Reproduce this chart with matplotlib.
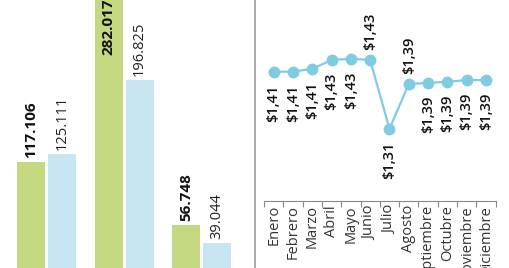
import matplotlib; matplotlib.use("Agg")
import matplotlib.pyplot as plt
from matplotlib.lines import Line2D

plt.rcParams["font.family"] = ["Open Sans", "DejaVu Sans"]

# bar chart (left)
GROUPS = ["A", "B", "C"]
GREEN = [117.106, 282.017, 56.748]
BLUE = [125.111, 196.825, 39.044]
GREEN_LBL = ["117.106", "282.017", "56.748"]
BLUE_LBL = ["125.111", "196.825", "39.044"]

# line chart (right)
MONTHS = ["Enero", "Febrero", "Marzo", "Abril", "Mayo", "Junio", "Julio",
          "Agosto", "Septiembre", "Octubre", "Noviembre", "Diciembre"]
PRICE = [1.408, 1.408, 1.413, 1.429, 1.431, 1.429, 1.306,
         1.386, 1.388, 1.390, 1.393, 1.393]
ABOVE = ["Junio", "Agosto"]

C_GREEN = "#c4d882"
C_BLUE = "#c8e6f2"
C_LINE = "#80cbe4"

fig = plt.figure(figsize=(5.1, 2.68), dpi=100)

# --- bars
ax = fig.add_axes([0, 0, 0.5, 1])
x = list(range(len(GROUPS)))
w = 0.361
ax.bar([i - 0.2 for i in x], GREEN, w, color=C_GREEN)
ax.bar([i + 0.2 for i in x], BLUE, w, color=C_BLUE)
ax.set_xlim(-0.6, 2.69)
ax.set_ylim(14.8, 274.3)
for i, (g, b) in enumerate(zip(GREEN, BLUE)):
    ax.text(i - 0.2, min(g + 4, 221), GREEN_LBL[i], rotation=90, ha="center",
            va="bottom", fontsize=11, fontweight="bold", color="#111111")
    ax.text(i + 0.2, min(b + 4, 221), BLUE_LBL[i], rotation=90, ha="center",
            va="bottom", fontsize=10.5, color="#222222")
ax.axis("off")

# divider
fig.add_artist(Line2D([255.5 / 510] * 2, [0, 1], transform=fig.transFigure,
                      color="#9a9a9a", lw=1.2))

# --- line
ax2 = fig.add_axes([264 / 510, 0.25, 231.6 / 510, 0.75])
xm = list(range(len(MONTHS)))
ax2.plot(xm, PRICE, "-o", color=C_LINE, lw=1.6, ms=7.5)
ax2.set_xlim(-0.5, 11.5)
ax2.set_ylim(1.177, 1.536)
for i, (m, p) in enumerate(zip(MONTHS, PRICE)):
    lbl = "$" + f"{p:.2f}".replace(".", ",")
    if m in ABOVE:
        ax2.annotate(lbl, (i, p), xytext=(0, 7), textcoords="offset points",
                     rotation=90, ha="center", va="bottom", fontsize=10.5,
                     fontweight="semibold", color="#111111")
    else:
        ax2.annotate(lbl, (i, p), xytext=(0, -9), textcoords="offset points",
                     rotation=90, ha="center", va="top", fontsize=10.5,
                     fontweight="semibold", color="#111111")
for s in ["top", "right", "left"]:
    ax2.spines[s].set_visible(False)
ax2.spines["bottom"].set_color("#888888")
ax2.spines["bottom"].set_linewidth(0.8)
ax2.set_yticks([])
ax2.set_xticks(xm)
ax2.set_xticklabels(MONTHS, rotation=90, fontsize=10.5, color="#333333")
ax2.tick_params(axis="x", which="major", length=0, pad=3)
ax2.set_xticks([i - 0.5 for i in range(len(MONTHS) + 1)], minor=True)
ax2.tick_params(axis="x", which="minor", length=4, color="#888888", width=0.8)
ax2.patch.set_alpha(0)

fig.savefig("out.png", dpi=100)
